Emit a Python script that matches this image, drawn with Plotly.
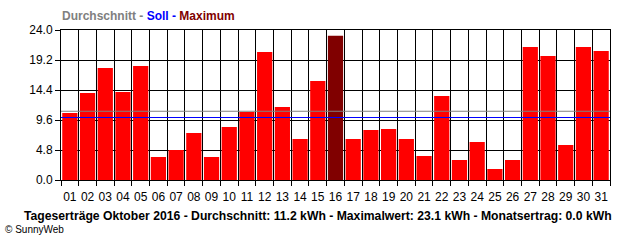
import plotly.graph_objects as go

days = list(range(1, 32))
day_labels = [f"{d:02d}" for d in days]
values = [10.72, 13.92, 17.92, 14.08, 18.24, 3.68, 4.8, 7.52, 3.68, 8.48,
          10.88, 20.48, 11.68, 6.56, 15.84, 23.1, 6.56, 8.0, 8.16, 6.56,
          3.84, 13.44, 3.2, 6.08, 1.76, 3.2, 21.28, 19.84, 5.6, 21.28, 20.64]
soll = 10.0
y_ticks = [0.0, 4.8, 9.6, 14.4, 19.2, 24.0]
y_labels = [f"{v:.1f}" for v in y_ticks]
footer = "Tageserträge Oktober 2016 - Durchschnitt: 11.2 kWh - Maximalwert: 23.1 kWh - Monatsertrag: 0.0 kWh"

avg = sum(values) / len(values)
vmax = max(values)
colors = ["#800000" if v == vmax else "#ff0000" for v in values]

W, H = 640, 240
L, R, T, B = 61, 30, 30, 60
pw, ph = W - L - R, H - T - B

def px(x):
    return (x - L) / pw

def py(y):
    return (H - B - y) / ph

fig = go.Figure()
fig.add_trace(go.Bar(x=days, y=values, marker=dict(color=colors, line=dict(width=0)),
                     width=0.86, hoverinfo="skip"))

fig.add_shape(type="line", xref="paper", x0=0, x1=1, yref="y", y0=avg, y1=avg,
              line=dict(color="#808080", width=1), layer="above")
fig.add_shape(type="line", xref="paper", x0=0, x1=1, yref="y", y0=soll, y1=soll,
              line=dict(color="#0000ff", width=1), layer="above")

fig.update_layout(
    width=W, height=H,
    margin=dict(l=L, r=R, t=T, b=B, pad=0),
    paper_bgcolor="white", plot_bgcolor="white",
    showlegend=False,
    font=dict(family="Liberation Sans, Arial, sans-serif", size=11, color="black"),
    xaxis=dict(
        range=[0.5, 31.5], tickmode="array", tickvals=days, ticktext=day_labels,
        ticks="", showgrid=False, zeroline=False,
        showline=True, mirror=True, linecolor="black", linewidth=1,
        tickfont=dict(family="Liberation Sans Narrow, Liberation Sans, sans-serif", size=12),
        ticklabelstandoff=6,
        minor=dict(tick0=0.5, dtick=1, ticks="outside", ticklen=5, tickcolor="black",
                   tickwidth=1, showgrid=True, gridcolor="black", gridwidth=1),
        fixedrange=True,
    ),
    yaxis=dict(
        range=[0, 24], tickmode="array", tickvals=y_ticks, ticktext=y_labels,
        ticks="outside", ticklen=5, tickcolor="black", tickwidth=1,
        showgrid=True, gridcolor="black", gridwidth=1, zeroline=False,
        showline=True, mirror=True, linecolor="black", linewidth=1,
        tickfont=dict(family="Liberation Sans, sans-serif", size=12),
        fixedrange=True,
    ),
    bargap=0.14,
)

fig.add_annotation(
    xref="paper", yref="paper", x=px(60), y=py(16), xanchor="left", yanchor="middle",
    showarrow=False,
    text="<b><span style='color:#808080'>Durchschnitt - </span>"
         "<span style='color:#0000ff'>Soll - </span>"
         "<span style='color:#800000'>Maximum</span></b>",
    font=dict(family="Liberation Sans, Arial, sans-serif", size=12),
)
fig.add_annotation(
    xref="paper", yref="paper", x=px(22), y=py(216), xanchor="left", yanchor="middle",
    showarrow=False, text=f"<b>{footer}</b>",
    font=dict(family="Liberation Sans, Arial, sans-serif", size=12.2, color="black"),
)
fig.add_annotation(
    xref="paper", yref="paper", x=px(3), y=py(229), xanchor="left", yanchor="middle",
    showarrow=False, text="© SunnyWeb",
    font=dict(family="Liberation Sans, Arial, sans-serif", size=10, color="black"),
)

fig.write_html("out.html", config={"displayModeBar": False})
